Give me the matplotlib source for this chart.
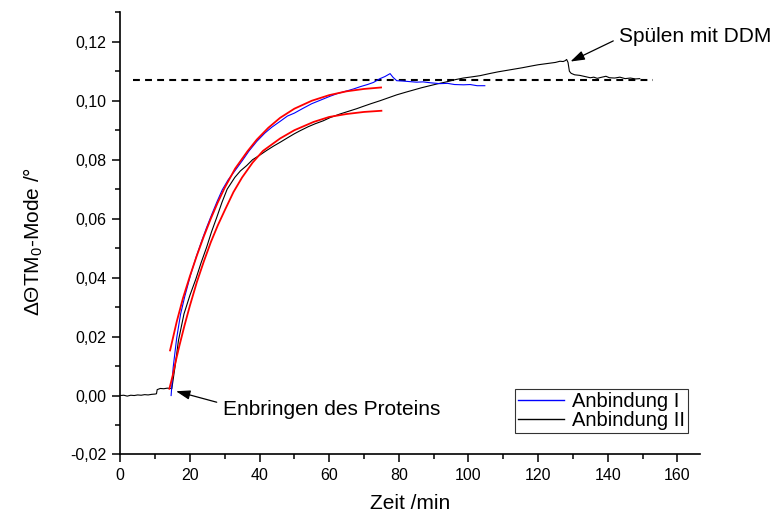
import matplotlib
matplotlib.use("Agg")
import matplotlib.pyplot as plt
from matplotlib.ticker import MultipleLocator, FuncFormatter

plt.rcParams['font.family'] = ['Liberation Sans', 'DejaVu Sans']
plt.rcParams['mathtext.fontset'] = 'custom'
plt.rcParams['mathtext.rm'] = 'Liberation Sans'
plt.rcParams['mathtext.it'] = 'Liberation Sans:italic'
plt.rcParams['mathtext.default'] = 'regular'

# Binding run I (blue)
bind1_t = [14.6, 15.2, 16.2, 17.3, 18.5, 20.2, 21.8, 23.4, 24.8, 26.2, 27.8, 29.3, 31.0,
           32.9, 35.0, 37.0, 39.2, 41.5, 43.5, 45.9, 48.0, 50.0, 52.6,
           55.0, 57.5, 60.2, 62.5, 65.0, 67.0, 69.0, 71.0, 72.7, 74.6,
           76.0, 77.5, 78.3, 79.4, 81.0, 83.0, 85.1, 87.0, 89.0, 91.8,
           94.0, 96.0, 98.6, 100.5, 102.5, 104.7]
bind1_v = [0.0000, 0.0096, 0.0195, 0.0275, 0.0335, 0.0410, 0.0470, 0.0525, 0.0570, 0.0612, 0.0658, 0.0698, 0.0732,
           0.0762, 0.0796, 0.0830, 0.0862, 0.0890, 0.0910, 0.0930, 0.0948, 0.0958, 0.0975,
           0.0990, 0.1002, 0.1015, 0.1025, 0.1033, 0.1040, 0.1048, 0.1055, 0.1062, 0.1075,
           0.1082, 0.1092, 0.1080, 0.1068, 0.1067, 0.1065, 0.1063, 0.1064, 0.1061, 0.1058,
           0.1059, 0.1055, 0.1054, 0.1055, 0.1051, 0.1051]

# Binding run II (black), including baseline and DDM rinse
bind2_t = [0, 1, 2, 3, 4, 5, 6, 7, 8, 9, 10,
           10.4, 10.6, 11.5, 12.5, 13.5, 14.5, 14.8,
           15.7, 16.7, 18.3, 20.0, 21.7, 23.2, 24.8, 26.2, 27.7, 29.2, 30.7,
           32.9, 34.5, 36.3, 38.0, 40.0, 42.0, 44.0, 45.9, 48.0, 50.0,
           51.6, 54.0, 56.0, 58.3, 60.3, 63.1, 65.5, 67.9, 69.8, 72.0, 74.6,
           77.0, 79.4, 82.0, 84.1, 86.5, 88.9, 91.0, 93.7, 96.0, 98.5,
           101.0, 103.3, 106.0, 108.5, 111.0, 113.0, 115.5, 117.7, 120.0, 122.5,
           125.0, 126.3, 127.2, 127.8, 128.2, 128.6, 129.0, 129.5, 130.5, 132.0,
           133.5, 135.0, 136.0, 137.0, 138.0, 139.5, 140.5, 142.0, 143.5, 145.0,
           146.5, 148.0, 149.2]
bind2_v = [0.0000, 0.0001, -0.0002, 0.0001, 0.0000, 0.0002, 0.0001, 0.0003, 0.0002, 0.0004, 0.0005,
           0.0006, 0.0020, 0.0024, 0.0023, 0.0025, 0.0024, 0.0023,
           0.0096, 0.0186, 0.0277, 0.0340, 0.0395, 0.0450, 0.0503, 0.0555, 0.0604, 0.0655, 0.0700,
           0.0740, 0.0762, 0.0780, 0.0800, 0.0815, 0.0831, 0.0846, 0.0859, 0.0874, 0.0888,
           0.0898, 0.0912, 0.0922, 0.0932, 0.0943, 0.0955, 0.0964, 0.0973, 0.0981, 0.0990, 0.1000,
           0.1010, 0.1020, 0.1029, 0.1036, 0.1044, 0.1051, 0.1057, 0.1064, 0.1071, 0.1077,
           0.1081, 0.1085, 0.1092, 0.1098, 0.1103, 0.1107, 0.1112, 0.1117, 0.1122, 0.1126,
           0.1130, 0.1134, 0.1133, 0.1136, 0.1140, 0.1130, 0.1100, 0.1093, 0.1088, 0.1086,
           0.1082, 0.1078, 0.1080, 0.1076, 0.1079, 0.1083, 0.1078, 0.1077, 0.1080, 0.1075,
           0.1077, 0.1074, 0.1075]

# Exponential fit curves (red)
fit1_t = [14.3, 16.2, 18.0, 20.0, 22.0, 24.0, 26.0, 28.0, 30.0, 33.0, 36.5, 39.2,
          42.5, 45.9, 50.0, 55.0, 60.0, 65.0, 70.0, 74.9]
fit1_v = [0.0153, 0.0250, 0.0330, 0.0405, 0.0475, 0.0540, 0.0600, 0.0655, 0.0705, 0.0770, 0.0828, 0.0868,
          0.0908, 0.0942, 0.0973, 0.1000, 0.1019, 0.1032, 0.1040, 0.1045]
fit2_t = [14.1, 15.0, 16.0, 17.0, 18.5, 20.0, 22.0, 24.0, 26.0, 28.0, 30.0, 32.5, 35.0,
          38.0, 41.0, 45.9, 50.0, 55.5, 60.0, 65.0, 70.0, 75.0]
fit2_v = [0.0023, 0.0065, 0.0120, 0.0170, 0.0240, 0.0305, 0.0385, 0.0455, 0.0520, 0.0577, 0.0628, 0.0690, 0.0740,
          0.0790, 0.0830, 0.0872, 0.0900, 0.0928, 0.0945, 0.0955, 0.0962, 0.0966]

# Saturation level (dashed)
level_t = [3.6, 153.0]
level_v = 0.1072

x_ticks = [0, 20, 40, 60, 80, 100, 120, 140, 160]
y_ticks = [-0.02, 0.00, 0.02, 0.04, 0.06, 0.08, 0.10, 0.12]

fig = plt.figure(figsize=(7.77, 5.23), dpi=100)
ax = fig.add_axes([0.1548, 0.1310, 0.7465, 0.8466])

ax.plot(level_t, [level_v, level_v], color='black', lw=1.5, dashes=(3.3, 2.5))
ax.plot(bind2_t, bind2_v, color='black', lw=0.8, label='Anbindung II', zorder=3)
ax.plot(bind1_t, bind1_v, color='#0000ff', lw=0.8, label='Anbindung I', zorder=4)
ax.plot(fit1_t, fit1_v, color='#ff0000', lw=1.3, zorder=5)
ax.plot(fit2_t, fit2_v, color='#ff0000', lw=1.3, zorder=5)

ax.set_xlim(0, 166.6)
ax.set_ylim(-0.02, 0.1302)
ax.set_xticks(x_ticks)
ax.set_yticks(y_ticks)
ax.xaxis.set_minor_locator(MultipleLocator(10))
ax.yaxis.set_minor_locator(MultipleLocator(0.01))
ax.yaxis.set_major_formatter(FuncFormatter(lambda v, p: f"{v:.2f}".replace('.', ',').replace('-0,00', '0,00')))

for s in ('top', 'right'):
    ax.spines[s].set_visible(False)
for s in ('left', 'bottom'):
    ax.spines[s].set_linewidth(1.2)
ax.tick_params(which='major', direction='out', length=6, width=1.1, labelsize=11.5, pad=4)
ax.tick_params(which='minor', direction='out', length=3.5, width=1.1)

ax.set_xlabel('Zeit /min', fontsize=15, labelpad=8)
ax.set_ylabel('ΔΘTM$_0$-Mode /°', fontsize=15, va='center')
ax.yaxis.set_label_coords(-0.1505, 0.482)

handles, labels = ax.get_legend_handles_labels()
order = [labels.index('Anbindung I'), labels.index('Anbindung II')]
leg = ax.legend([handles[i] for i in order], [labels[i] for i in order],
                loc='lower left', bbox_to_anchor=(0.6805, 0.048), borderaxespad=0,
                fontsize=14.5, frameon=True, fancybox=False, handlelength=2.3,
                handletextpad=0.37, borderpad=0.15, labelspacing=0.02)
leg.get_frame().set_edgecolor('black')
leg.get_frame().set_linewidth(0.8)
for ln in leg.get_lines():
    ln.set_linewidth(1.0)

arrow_kw = dict(arrowstyle='-|>,head_length=0.85,head_width=0.28', color='black',
                lw=0.9, shrinkA=0, shrinkB=0, mutation_scale=10)
ax.annotate('', xy=(16.0, 0.00146), xytext=(27.7, -0.00227), arrowprops=arrow_kw)
ax.text(29.55, -0.00644, 'Enbringen des Proteins', fontsize=15, ha='left', va='baseline')
ax.annotate('', xy=(129.3, 0.1133), xytext=(141.6, 0.1203), arrowprops=arrow_kw)
ax.text(143.3, 0.1198, 'Spülen mit DDM', fontsize=15, ha='left', va='baseline')

fig.savefig('out.png', dpi=100)
